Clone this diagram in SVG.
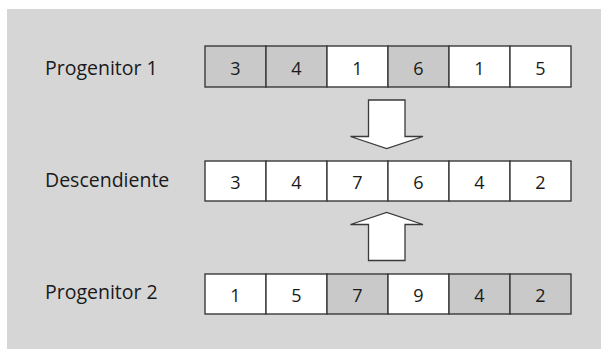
<svg xmlns="http://www.w3.org/2000/svg" width="601" height="349" viewBox="0 0 601 349">
<style>
.bg{fill:#d6d6d6}
.c{stroke:#3a3a3a;stroke-width:1.4}
.w{fill:#ffffff}
.g{fill:#c9c9c9}
.lbl{font-family:"Open Sans",sans-serif;font-size:19.5px;fill:#1a1a1a}
.num{font-family:"Open Sans",sans-serif;font-size:18px;fill:#1a1a1a;text-anchor:middle}
.arr{fill:#ffffff;stroke:#3a3a3a;stroke-width:1.3;stroke-linejoin:miter}
</style>
<rect class="bg" x="7" y="9" width="594" height="340"/>
<g id="progenitor1">
<text class="lbl" x="45" y="75">Progenitor 1</text>
<rect class="c g" x="205" y="46" width="61" height="41"/>
<rect class="c g" x="266" y="46" width="61" height="41"/>
<rect class="c w" x="327" y="46" width="61" height="41"/>
<rect class="c g" x="388" y="46" width="61" height="41"/>
<rect class="c w" x="449" y="46" width="61" height="41"/>
<rect class="c w" x="510" y="46" width="61" height="41"/>
<text class="num" x="235.5" y="75">3</text>
<text class="num" x="296.5" y="75">4</text>
<text class="num" x="357.5" y="75">1</text>
<text class="num" x="418.5" y="75">6</text>
<text class="num" x="479.5" y="75">1</text>
<text class="num" x="540.5" y="75">5</text>
</g>
<g id="descendiente">
<text class="lbl" x="45" y="187">Descendiente</text>
<rect class="c w" x="205" y="161" width="61" height="40"/>
<rect class="c w" x="266" y="161" width="61" height="40"/>
<rect class="c w" x="327" y="161" width="61" height="40"/>
<rect class="c w" x="388" y="161" width="61" height="40"/>
<rect class="c w" x="449" y="161" width="61" height="40"/>
<rect class="c w" x="510" y="161" width="61" height="40"/>
<text class="num" x="235.5" y="189">3</text>
<text class="num" x="296.5" y="189">4</text>
<text class="num" x="357.5" y="189">7</text>
<text class="num" x="418.5" y="189">6</text>
<text class="num" x="479.5" y="189">4</text>
<text class="num" x="540.5" y="189">2</text>
</g>
<g id="progenitor2">
<text class="lbl" x="45" y="299">Progenitor 2</text>
<rect class="c w" x="205" y="274" width="61" height="40"/>
<rect class="c w" x="266" y="274" width="61" height="40"/>
<rect class="c g" x="327" y="274" width="61" height="40"/>
<rect class="c w" x="388" y="274" width="61" height="40"/>
<rect class="c g" x="449" y="274" width="61" height="40"/>
<rect class="c g" x="510" y="274" width="61" height="40"/>
<text class="num" x="235.5" y="302">1</text>
<text class="num" x="296.5" y="302">5</text>
<text class="num" x="357.5" y="302">7</text>
<text class="num" x="418.5" y="302">9</text>
<text class="num" x="479.5" y="302">4</text>
<text class="num" x="540.5" y="302">2</text>
</g>
<g id="connectors">
<path class="arr" d="M368.5,100 H405 V136.5 H423 L386.7,148.5 L350.5,136.5 H368.5 Z"/>
<path class="arr" d="M368.5,260.5 H405 V224.5 H423 L386.7,212.5 L350.5,224.5 H368.5 Z"/>
</g>
</svg>
